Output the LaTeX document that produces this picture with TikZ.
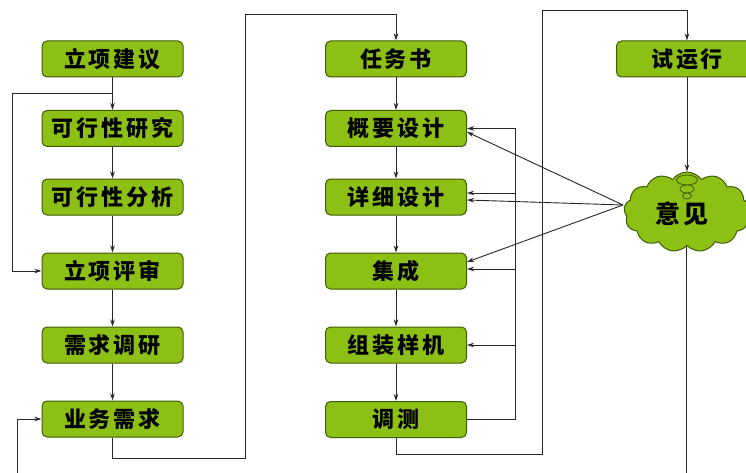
\documentclass[tikz,border=0pt]{standalone}
\usepackage{fontspec}
\newfontfamily\cjk{Noto Sans CJK SC}
\usetikzlibrary{shapes.symbols,arrows.meta,calc}
\definecolor{boxgreen}{HTML}{8CC014}
\definecolor{boxedge}{HTML}{405C05}
\definecolor{linec}{HTML}{262626}
\newcommand{\gp}{\kern3pt}
\begin{document}
\begin{tikzpicture}[x=1pt,y=-1pt,
  box/.style={draw=boxedge, line width=1pt, fill=boxgreen, rounded corners=5pt,
    minimum width=141pt, minimum height=36pt, inner sep=0pt,
    font=\cjk\bfseries\fontsize{22}{22}\selectfont},
  arr/.style={draw=linec, line width=0.9pt, -{Stealth[length=7pt,width=4.5pt]}},
  ln/.style={draw=linec, line width=1pt},
  bubble/.style={draw=boxedge, line width=0.8pt, fill=boxgreen}]
\useasboundingbox (0,0) rectangle (746,473);
% left column
\node[box] (l1) at (112.5,59) {立\gp 项\gp 建\gp 议};
\node[box] (l2) at (112.5,128.5) {可\gp 行\gp 性\gp 研\gp 究};
\node[box] (l3) at (112.5,197) {可\gp 行\gp 性\gp 分\gp 析};
\node[box] (l4) at (112.5,271) {立\gp 项\gp 评\gp 审};
\node[box] (l5) at (112.5,345) {需\gp 求\gp 调\gp 研};
\node[box] (l6) at (112.5,419) {业\gp 务\gp 需\gp 求};
% middle column
\node[box] (m1) at (396,59) {任\gp 务\gp 书};
\node[box] (m2) at (396,128.5) {概\gp 要\gp 设\gp 计};
\node[box] (m3) at (396,197) {详\gp 细\gp 设\gp 计};
\node[box] (m4) at (396,271) {集\gp 成};
\node[box] (m5) at (396,345) {组\gp 装\gp 样\gp 机};
\node[box] (m6) at (396,419.5) {调\gp 测};
% right
\node[box] (r1) at (687,59) {试\gp 运\gp 行};
\node[cloud, cloud puffs=13, cloud puff arc=110, aspect=1.55, draw=boxedge, line width=1pt,
  fill=boxgreen, minimum width=126pt, minimum height=80pt, inner sep=0pt] (yj) at (687,212) {};
\draw[bubble] (687,180) ellipse [x radius=10.5pt, y radius=5pt];
\draw[bubble] (687,189) ellipse [x radius=7pt, y radius=4pt];
\draw[bubble] (687,196) ellipse [x radius=4.5pt, y radius=3pt];
\node[font=\cjk\bfseries\fontsize{25}{25}\selectfont, inner sep=0pt] (yjt) at (682,214) {意\gp 见};
% vertical chains
\foreach \a/\b in {l1/l2,l2/l3,l3/l4,l4/l5,l5/l6,m1/m2,m2/m3,m3/m4,m4/m5,m5/m6}
  \draw[arr] (\a) -- (\b);
% left loop
\coordinate (lp) at (112.5,93);
\draw[arr] (lp) -- (12,93) |- (l4.west);
\coordinate (bl) at (17,473);
\draw[arr] (bl) |- (l6.west);
% left to middle
\draw[arr] (l6.south) |- (245,458) -- (245,14) -| (m1.north);
% feedback from test
\draw[arr] (m6.east) -- (515,419.5) -- (515,128.5) -- (m2.east);
\coordinate (fb3) at (515,193);
\coordinate (fb4) at (515,269);
\coordinate (fb5) at (515,345);
\draw[arr] (fb3) -- ([yshift=4pt]m3.east);
\draw[arr] (fb4) -- ([yshift=2pt]m4.east);
\draw[arr] (fb5) -- (m5.east);
% cloud feedback
\coordinate (yjL) at (623,205);
\draw[arr] (yjL) -- ([yshift=-3.5pt]m2.east);
\draw[arr] (yjL) -- ([yshift=-3pt]m3.east);
\draw[arr] (yjL) -- ([yshift=9pt]m4.east);
% middle to trial run
\draw[arr] (m6.south) |- (542,454) -- (542,10) -| (r1.north);
\draw[arr] (r1.south) -- (yj.north);
\coordinate (br) at (686.5,473);
\draw[ln] (yj.south -| br) -- (br);
\end{tikzpicture}
\end{document}
